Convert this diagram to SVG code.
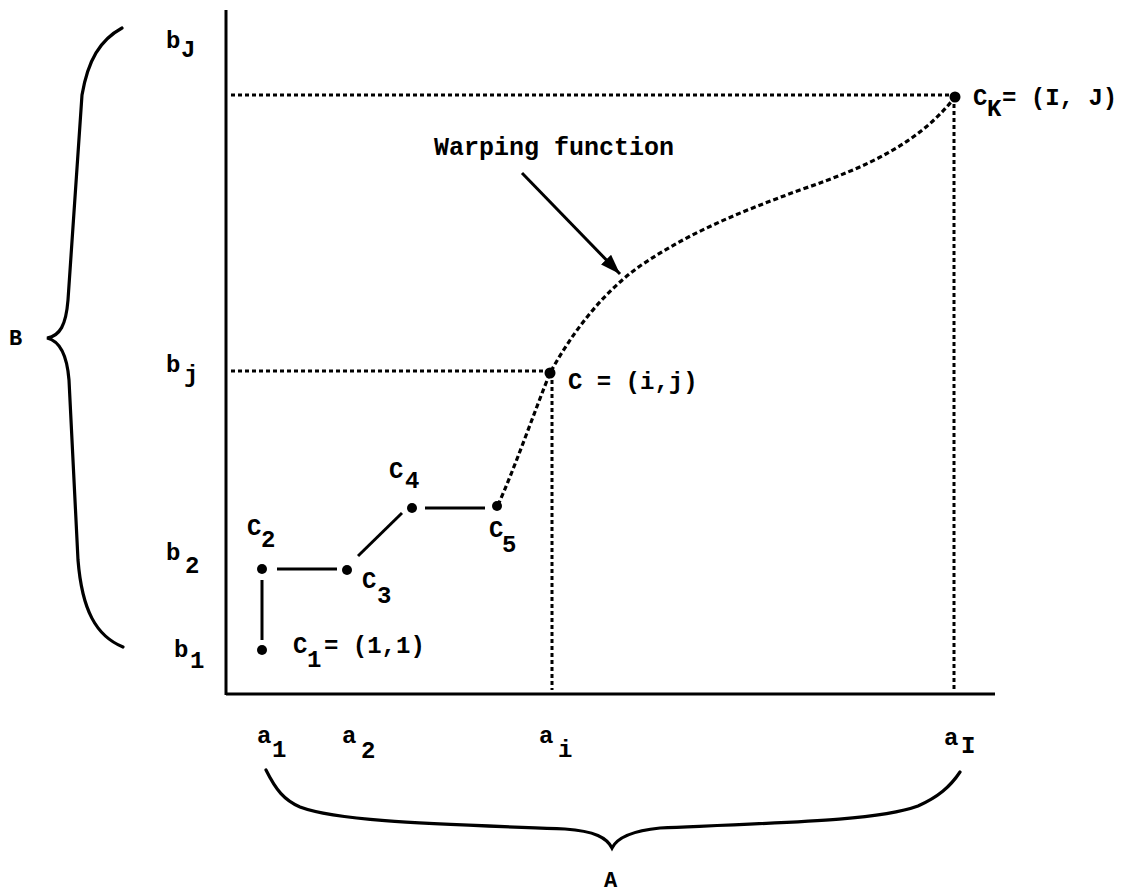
<svg xmlns="http://www.w3.org/2000/svg" width="1126" height="892" viewBox="0 0 1126 892">
<style>
text{font-family:"Liberation Mono","Courier New",monospace;font-weight:bold;font-size:24px;fill:#000}
.axis{stroke:#000;stroke-width:3;fill:none}
.guide{stroke:#000;stroke-width:3;fill:none;stroke-dasharray:4 3}
.warp{stroke:#000;stroke-width:3.2;fill:none;stroke-dasharray:5 3}
.seg{stroke:#000;stroke-width:3;fill:none}
.brace{stroke:#000;stroke-width:3.2;fill:none;stroke-linecap:round}
.pt{fill:#000}
</style>
<defs>
<marker id="ah" markerUnits="userSpaceOnUse" markerWidth="22" markerHeight="14" refX="20" refY="7" orient="auto">
<path d="M0,0 L20,7 L0,14 z" fill="#000"/>
</marker>
</defs>
<rect width="1126" height="892" fill="#fff"/>
<g id="axes">
<line class="axis" x1="226" y1="10" x2="226" y2="695"/>
<line class="axis" x1="226" y1="694" x2="995" y2="694"/>
</g>
<g id="guides">
<line class="guide" x1="231" y1="95" x2="955" y2="95"/>
<line class="guide" x1="954" y1="97" x2="954" y2="690"/>
<line class="guide" x1="231" y1="371" x2="550" y2="371"/>
<line class="guide" x1="552" y1="373" x2="552" y2="690"/>
</g>
<g id="connectors">
<line class="seg" x1="262" y1="580" x2="262" y2="640"/>
<line class="seg" x1="277" y1="569" x2="337" y2="569"/>
<line class="seg" x1="358" y1="556" x2="402" y2="513"/>
<line class="seg" x1="425" y1="508" x2="485" y2="508"/>
<path class="warp" d="M498,505 C514,470 535,410 550,373 C572,333 602,293 640,266 C690,232 740,212 800,190 C870,166 920,142 955,97"/>
<line stroke="#000" stroke-width="3" x1="522" y1="173" x2="620" y2="274" marker-end="url(#ah)"/>
</g>
<g id="c1"><circle class="pt" cx="262" cy="650" r="5"/><text x="293" y="653">C</text><text x="307" y="667">1</text><text x="324" y="653">= (1,1)</text></g>
<g id="c2"><circle class="pt" cx="262" cy="569" r="5"/><text x="247" y="535">C</text><text x="261" y="547">2</text></g>
<g id="c3"><circle class="pt" cx="347" cy="570" r="5"/><text x="362" y="588">C</text><text x="377" y="603">3</text></g>
<g id="c4"><circle class="pt" cx="412" cy="508" r="5"/><text x="389" y="478">C</text><text x="405" y="488">4</text></g>
<g id="c5"><circle class="pt" cx="497" cy="506" r="5"/><text x="489" y="537">C</text><text x="502" y="552">5</text></g>
<g id="c"><circle class="pt" cx="550" cy="373" r="5.5"/><text x="568" y="389">C = (i,j)</text></g>
<g id="ck"><circle class="pt" cx="955" cy="97" r="5.5"/><text x="973" y="105">C</text><text x="987" y="116">K</text><text x="1002" y="105">= (I, J)</text></g>
<g id="warplabel"><text x="434" y="155" style="font-size:25px">Warping function</text></g>
<g id="ylabels">
<text x="166" y="48">b</text><text x="181" y="57">J</text>
<text x="166" y="372">b</text><text x="184" y="382">j</text>
<text x="166" y="560">b</text><text x="185" y="573">2</text>
<text x="174" y="657">b</text><text x="190" y="668">1</text>
</g>
<g id="xlabels">
<text x="257" y="743">a</text><text x="272" y="757">1</text>
<text x="342" y="743">a</text><text x="361" y="758">2</text>
<text x="539" y="743">a</text><text x="558" y="757">i</text>
<text x="944" y="745">a</text><text x="961" y="753">I</text>
</g>
<g id="braceB">
<path class="brace" d="M122,28 C100,40 88,60 82,95 L68,300 C66,325 60,336 47,338 C60,341 67,355 69,380 L78,560 C82,610 96,636 123,647"/>
<text x="9" y="345" style="font-size:22px">B</text>
</g>
<g id="braceA">
<path class="brace" d="M266,770 C276,790 284,800 300,807 C340,822 440,824 565,829 C595,831 607,838 612,848 C617,838 630,831 660,828 C800,822 880,820 918,806 C938,797 950,787 960,772"/>
<text x="604" y="887" style="font-size:22px">A</text>
</g>
</svg>
